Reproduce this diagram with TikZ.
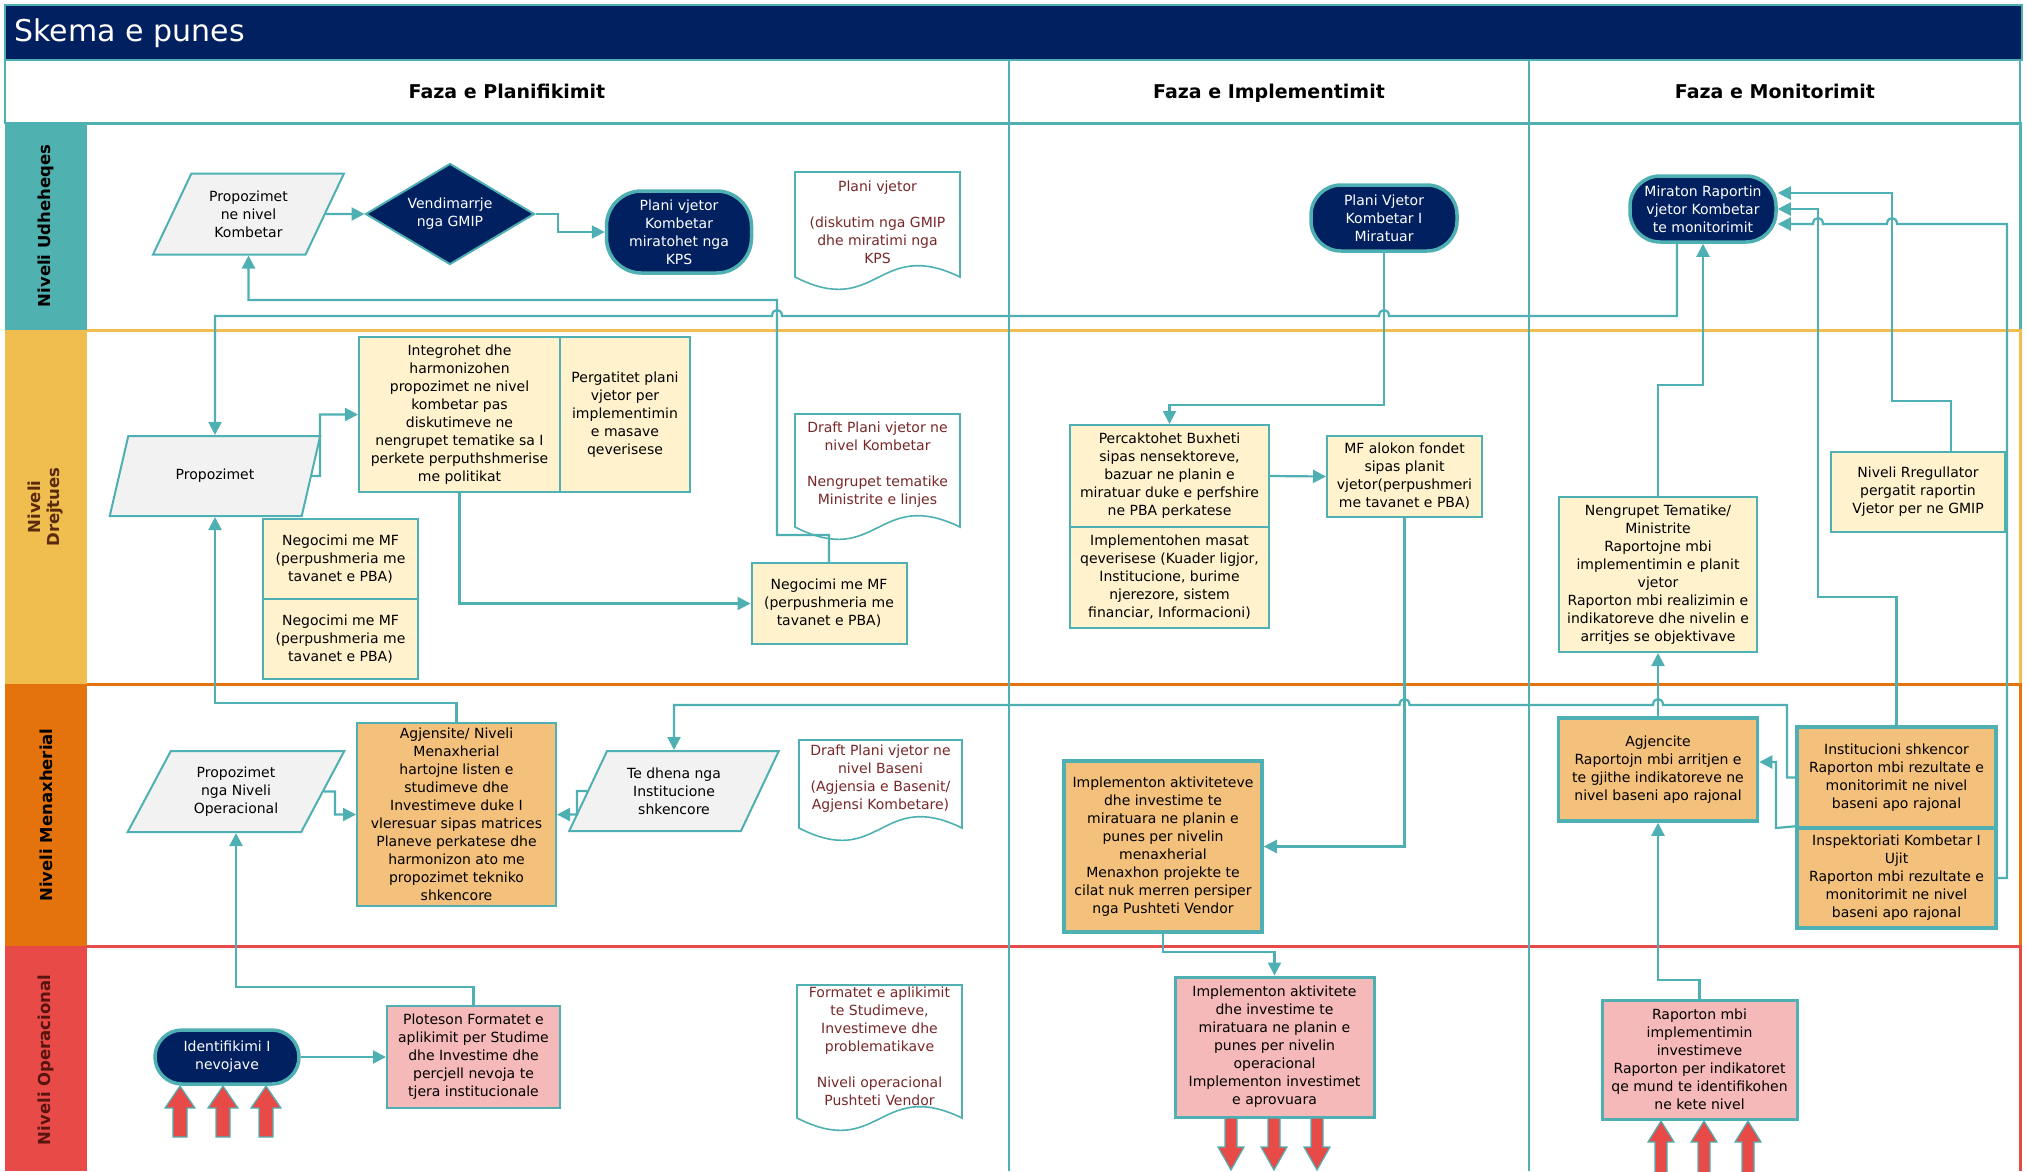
\documentclass[tikz,border=0pt]{standalone}
\usepackage{fontspec}
\setmainfont{DejaVu Sans}
\usetikzlibrary{shapes.geometric,arrows.meta}

\definecolor{navy}{RGB}{0,32,96}
\definecolor{tealln}{RGB}{78,176,178}
\definecolor{laneteal}{RGB}{80,177,177}
\definecolor{laneyel}{RGB}{240,190,78}
\definecolor{laneorg}{RGB}{228,115,14}
\definecolor{lanered}{RGB}{232,74,72}
\definecolor{boxyel}{RGB}{255,242,204}
\definecolor{boxorg}{RGB}{244,193,124}
\definecolor{boxpink}{RGB}{244,185,184}
\definecolor{boxgray}{RGB}{242,242,242}
\definecolor{docred}{RGB}{120,40,40}
\definecolor{drejbrown}{RGB}{90,42,12}
\definecolor{opbrown}{RGB}{90,20,16}

\newcommand\nodefont{\fontsize{14}{18}\selectfont}
\newcommand\lanefont{\fontsize{16.5}{19}\selectfont\bfseries}
\newcommand\headfont{\fontsize{19}{22}\selectfont\bfseries}
% page with a wavy foot: top-left corner, bottom-right end of the sides
\newcommand\docpage[4]{%
  \draw[tealln, line width=1.6, fill=white] (#1,#2) -- (#3,#2) -- (#3,#4)
    .. controls ({(#1+#3)/2},#4-40) and ({(#1+#3)/2},#4+42) .. (#1,#4) -- cycle;}

\begin{document}
\begin{tikzpicture}[x=1pt, y=-1pt,
  flow/.style={draw=tealln, line width=2.2, -{Triangle[length=13pt,width=13pt]}},
  box/.style={rectangle, draw=tealln, line width=2, align=center, inner sep=1, font=\nodefont},
  yelbox/.style={box, fill=boxyel},
  orgbox/.style={box, fill=boxorg, line width=3.5},
  pinkbox/.style={box, fill=boxpink, line width=3},
  inbox/.style={trapezium, trapezium left angle=61, trapezium right angle=119,
    trapezium stretches=true, draw=tealln, line width=2, fill=boxgray,
    align=center, inner sep=1, font=\nodefont},
  term/.style={rectangle, rounded corners=30, draw=tealln, line width=3.5,
    fill=navy, text=white, align=center, inner sep=1, font=\nodefont},
  decide/.style={diamond, aspect=1.7, draw=tealln, line width=2, fill=navy,
    text=white, align=center, inner sep=1, font=\nodefont},
  doctext/.style={align=center, text=docred, font=\nodefont, inner sep=0},
  lanelabel/.style={rotate=90, align=center, font=\lanefont},
  phase/.style={anchor=base, font=\headfont},
  fatarrow/.style={fill=lanered, draw=tealln, line width=1.2}]

\useasboundingbox (0,0) rectangle (2028,1171);

% lanes
\fill[laneteal] (5,123) rectangle (87,330);
\fill[laneyel] (5,330) rectangle (87,684);
\fill[laneorg] (5,684) rectangle (87,946);
\fill[lanered] (5,946) rectangle (87,1171);
\draw[laneteal, line width=3] (87,123) -- (2020,123) -- (2020,330);
\draw[laneyel, line width=3] (87,330) -- (2020,330) -- (2020,684);
\draw[laneorg, line width=3] (87,684) -- (2020,684) -- (2020,946);
\draw[lanered, line width=3] (87,946) -- (2020,946) -- (2020,1171);
\draw[tealln, line width=1.5] (1009,60) -- (1009,1171) (1529,60) -- (1529,1171);

% title and phases
\filldraw[fill=navy, draw=tealln, line width=2] (5,5) rectangle (2022,60);
\draw[tealln, line width=2] (5,60) rectangle (2020,123);
\node[anchor=west, text=white, font=\fontsize{30}{35}\selectfont] (title) at (11,33) {Skema e punes};
\node[phase] (fplan) at (507,98) {Faza e Planifikimit};
\node[phase] (fimpl) at (1269,98) {Faza e Implementimit};
\node[phase] (fmon) at (1775,98) {Faza e Monitorimit};

\node[lanelabel] (udh) at (46,226) {Niveli Udheheqes};
\node[lanelabel, text=drejbrown] (drej) at (46,507) {Niveli\\Drejtues};
\node[lanelabel] (men) at (46,815) {Niveli Menaxherial};
\node[lanelabel, text=opbrown] (ope) at (46,1060) {Niveli Operacional};

% Niveli Udheheqes
\node[inbox, minimum width=191, minimum height=81] (pkomb) at (248.5,214) {Propozimet\\ne nivel\\Kombetar};
\node[decide, minimum width=169, minimum height=101] (gmip) at (450,214) {Vendimarrje\\nga GMIP};
\node[term, rounded corners=35, minimum width=145, minimum height=82] (kps) at (679,232) {Plani vjetor\\Kombetar\\miratohet nga\\KPS};
\docpage{795}{172}{960}{277}
\node[doctext] (docplan) at (877.5,222) {Plani vjetor\\[18pt](diskutim nga GMIP\\dhe miratimi nga\\KPS};
\node[term, minimum width=146, minimum height=66] (pvm) at (1384,218) {Plani Vjetor\\Kombetar I\\Miratuar};
\node[term, minimum width=146, minimum height=66] (miraton) at (1703,209) {Miraton Raportin\\vjetor Kombetar\\te monitorimit};

% Niveli Drejtues
\node[inbox, minimum width=211, minimum height=80] (prop) at (215,476) {Propozimet};
\node[yelbox, minimum width=201, minimum height=155] (integ) at (459.5,414.5) {Integrohet dhe\\harmonizohen\\propozimet ne nivel\\kombetar pas\\diskutimeve ne\\nengrupet tematike sa I\\perkete perputhshmerise\\me politikat};
\node[yelbox, minimum width=130, minimum height=155] (pergat) at (625,414.5) {Pergatitet plani\\vjetor per\\implementimin\\e masave\\qeverisese};
\node[yelbox, minimum width=155, minimum height=80] (neg1) at (340.5,559) {Negocimi me MF\\(perpushmeria me\\tavanet e PBA)};
\node[yelbox, minimum width=155, minimum height=80] (neg2) at (340.5,639) {Negocimi me MF\\(perpushmeria me\\tavanet e PBA)};
\node[yelbox, minimum width=155, minimum height=81] (negr) at (829,603.5) {Negocimi me MF\\(perpushmeria me\\tavanet e PBA)};
\docpage{795}{414}{960}{527}
\node[doctext] (docdraft) at (877.5,465) {Draft Plani vjetor ne\\nivel Kombetar\\[18pt]Nengrupet tematike\\Ministrite e linjes};
\node[yelbox, minimum width=199, minimum height=102] (buxh) at (1169.5,476) {Percaktohet Buxheti\\sipas nensektoreve,\\bazuar ne planin e\\miratuar duke e perfshire\\ne PBA perkatese};
\node[yelbox, minimum width=199, minimum height=101] (impmasat) at (1169.5,577.5) {Implementohen masat\\qeverisese (Kuader ligjor,\\Institucione, burime\\njerezore, sistem\\financiar, Informacioni)};
\node[yelbox, minimum width=155, minimum height=81] (mfal) at (1404.5,476.5) {MF alokon fondet\\sipas planit\\vjetor(perpushmeri\\me tavanet e PBA)};
\node[yelbox, minimum width=198, minimum height=155] (nengr) at (1658,574.5) {Nengrupet Tematike/\\Ministrite\\Raportojne mbi\\implementimin e planit\\vjetor\\Raporton mbi realizimin e\\indikatoreve dhe nivelin e\\arritjes se objektivave};
\node[yelbox, minimum width=174, minimum height=80] (rregull) at (1918,492) {Niveli Rregullator\\pergatit raportin\\Vjetor per ne GMIP};

% Niveli Menaxherial
\node[inbox, minimum width=217, minimum height=81] (propop) at (236,791.5) {Propozimet\\nga Niveli\\Operacional};
\node[orgbox, line width=2, minimum width=199, minimum height=183] (agjens) at (456.5,814.5) {Agjensite/ Niveli\\Menaxherial\\hartojne listen e\\studimeve dhe\\Investimeve duke I\\vleresuar sipas matrices\\Planeve perkatese dhe\\harmonizon ato me\\propozimet tekniko\\shkencore};
\node[inbox, minimum width=210, minimum height=80] (tedhena) at (674,791) {Te dhena nga\\Institucione\\shkencore};
\docpage{799}{740}{962}{828}
\node[doctext] (docbaseni) at (880.5,779) {Draft Plani vjetor ne\\nivel Baseni\\(Agjensia e Basenit/\\Agjensi Kombetare)};
\node[orgbox, minimum width=198, minimum height=171] (impmen) at (1163,846.5) {Implementon aktiviteteve\\dhe investime te\\miratuara ne planin e\\punes per nivelin\\menaxherial\\Menaxhon projekte te\\cilat nuk merren persiper\\nga Pushteti Vendor};
\node[orgbox, minimum width=199, minimum height=103] (agjencite) at (1658,769.5) {Agjencite\\Raportojn mbi arritjen e\\te gjithe indikatoreve ne\\nivel baseni apo rajonal};
\node[orgbox, minimum width=199, minimum height=101] (instit) at (1896.5,777.5) {Institucioni shkencor\\Raporton mbi rezultate e\\monitorimit ne nivel\\baseni apo rajonal};
\node[orgbox, minimum width=199, minimum height=100] (inspekt) at (1896.5,878) {Inspektoriati Kombetar I\\Ujit\\Raporton mbi rezultate e\\monitorimit ne nivel\\baseni apo rajonal};

% Niveli Operacional
\node[term, rounded corners=27, minimum width=144, minimum height=54] (identif) at (227,1057) {Identifikimi I\\nevojave};
\node[pinkbox, line width=2, minimum width=173, minimum height=102] (ploteson) at (473.5,1057) {Ploteson Formatet e\\aplikimit per Studime\\dhe Investime dhe\\percjell nevoja te\\tjera institucionale};
\docpage{797}{985}{962}{1118}
\node[doctext] (docformat) at (879.5,1046) {Formatet e aplikimit\\te Studimeve,\\Investimeve dhe\\problematikave\\[18pt]Niveli operacional\\Pushteti Vendor};
\node[pinkbox, minimum width=199, minimum height=140] (impop) at (1274.5,1047) {Implementon aktivitete\\dhe investime te\\miratuara ne planin e\\punes per nivelin\\operacional\\Implementon investimet\\e aprovuara};
\node[pinkbox, minimum width=195, minimum height=119] (raporton) at (1699.5,1059.5) {Raporton mbi\\implementimin\\investimeve\\Raporton per indikatoret\\qe mund te identifikohen\\ne kete nivel};

% connectors
\draw[flow] (pkomb.east) -- (gmip.west);
\draw[flow] (gmip.east) -- (558,214) |- (kps.west);
\draw[flow] ([xshift=-26]miraton.south) -- (1677,316) -- (1389,316)
  .. controls (1389,308) and (1379,308) .. (1379,316) -- (782,316)
  .. controls (782,308) and (772,308) .. (772,316) -- (215,316) -- (prop.north);
\draw[flow] (negr.north) -- (829,535) -- (777,535) -- (777,300) -- (248.5,300) -- (pkomb.south);
\draw[flow] (prop.east) -- (320,476) |- (integ.west);
\draw[flow] (integ.south) |- (negr.west);
\draw[flow] (agjens.north) -- (456.5,703) -| (prop.south);
\draw[flow] (pvm.south) -- (1384,405) -| (buxh.north);
\draw[flow] (buxh.east) -- (mfal.west);
\draw[flow] (mfal.south) |- (impmen.east);
\draw[flow] (impmen.south) -- (1163,952) -| (impop.north);
\draw[flow] (nengr.north) -- (1658,385) -| (miraton.south);
\draw[flow] ([xshift=33]rregull.north) -- (1951,401) -- (1892,401) -- (1892,193) -- (miraton.east |- 1776,193);
\draw[flow] (instit.north) -- (1896.5,597) -- (1818,597) -- (1818,209) -- (miraton.east);
\draw[flow] (inspekt.east) -- (2007,878) -- (2007,224) -- (1897,224)
  .. controls (1897,216) and (1887,216) .. (1887,224) -- (1823,224)
  .. controls (1823,216) and (1813,216) .. (1813,224) -- (miraton.east |- 1776,224);
\draw[flow] (agjencite.north) -- (nengr.south);
\draw[flow] (instit.west) -- (1787,777.5) -- (1787,705) -- (1663,705)
  .. controls (1663,697) and (1653,697) .. (1653,705) -- (1409.5,705)
  .. controls (1409.5,697) and (1399.5,697) .. (1399.5,705) -- (674,705) -- (tedhena.north);
\draw[flow] (inspekt.north west) -- (1776,828) -- (1776,762) -- (agjencite.east |- 1757,762);
\draw[flow] (tedhena.west) -- (577,791) |- (agjens.east);
\draw[flow] (propop.east) -- (335,791.5) |- (agjens.west);
\draw[flow] (ploteson.north) -- (473.5,987) -| (propop.south);
\draw[flow] (identif.east) -- (ploteson.west);
\draw[flow] (raporton.north) -- (1699.5,980) -| (agjencite.south);

% big red arrows
\foreach \x in {180,223,266}
  \draw[fatarrow] (\x-7,1137) -- (\x-7,1108) -- (\x-15,1108) -- (\x,1086) -- (\x+15,1108) -- (\x+7,1108) -- (\x+7,1137) -- cycle;
\foreach \x in {1231,1274,1317}
  \draw[fatarrow] (\x-6,1118) -- (\x-6,1147) -- (\x-13,1147) -- (\x,1170) -- (\x+13,1147) -- (\x+6,1147) -- (\x+6,1118) -- cycle;
\foreach \x in {1661,1704,1748}
  \draw[fatarrow] (\x-6,1175) -- (\x-6,1142) -- (\x-13,1142) -- (\x,1121) -- (\x+13,1142) -- (\x+6,1142) -- (\x+6,1175) -- cycle;
\end{tikzpicture}
\end{document}
